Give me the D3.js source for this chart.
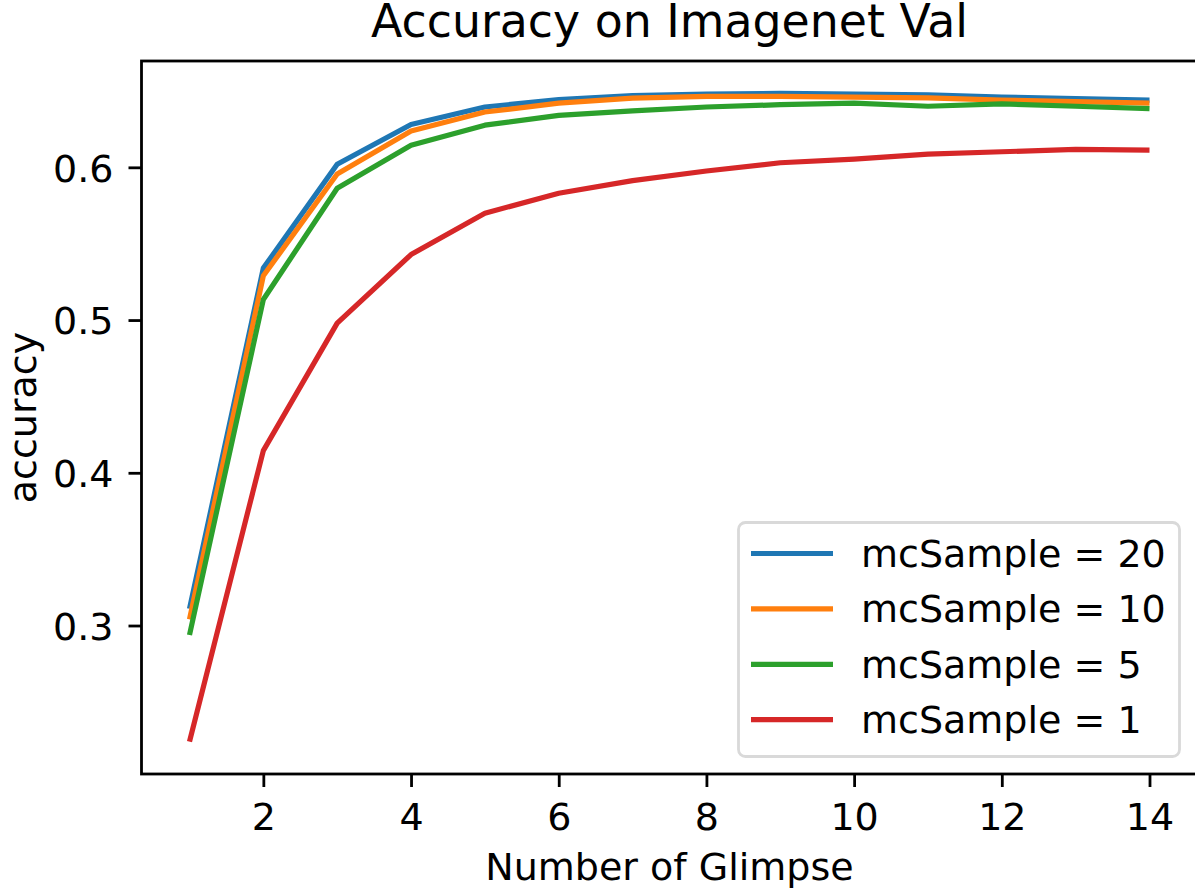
<!DOCTYPE html>
<html>
<head>
<meta charset="utf-8">
<script src="https://cdn.jsdelivr.net/npm/d3@7"></script>
<style>
  body { margin: 0; background: #fff; }
  svg { display: block; font-family: "DejaVu Sans", sans-serif; }
</style>
</head>
<body>
<svg width="1195" height="890"></svg>
<script>
"use strict";

// Data.

var glimpses = [1, 2, 3, 4, 5, 6, 7, 8, 9, 10, 11, 12, 13, 14];
var acc20 = [0.311, 0.534, 0.602, 0.628, 0.6395, 0.6443, 0.647, 0.648, 0.6484, 0.648, 0.6475, 0.646, 0.645, 0.644];
var acc10 = [0.304, 0.529, 0.5956, 0.6238, 0.6362, 0.642, 0.6453, 0.6464, 0.6464, 0.646, 0.6455, 0.644, 0.643, 0.642];
var acc5 = [0.2938, 0.5135, 0.5863, 0.6145, 0.6276, 0.634, 0.637, 0.6395, 0.641, 0.642, 0.640, 0.6415, 0.640, 0.6385];
var acc1 = [0.224, 0.4145, 0.498, 0.5429, 0.570, 0.583, 0.5913, 0.5976, 0.603, 0.6054, 0.6087, 0.6102, 0.6117, 0.6113];

var seriesLabels = ["mcSample = 20", "mcSample = 10", "mcSample = 5", "mcSample = 1"];
var seriesValues = [acc20, acc10, acc5, acc1];
var seriesColors = ["#1f77b4", "#ff7f0e", "#2ca02c", "#d62728"];

var xTicks = [2, 4, 6, 8, 10, 12, 14];
var yTicks = [0.3, 0.4, 0.5, 0.6];

// Layout.

var svg = d3.select("svg");
var Left = 141.5, Right = 1197.5, Top = 61, Bottom = 774;
var LineWidth = 5.2;
var SpineWidth = 2.8;
var TickLen = 13;
var FontTick = 38;
var FontTitle = 45.8;

// Scales with matplotlib style 5% margins.

var xExt = d3.extent(glimpses);
var xPad = (xExt[1] - xExt[0]) * 0.05;
var x = d3.scaleLinear().domain([xExt[0] - xPad, xExt[1] + xPad]).range([Left, Right]);

var allVals = d3.merge(seriesValues);
var yExt = d3.extent(allVals);
var yPad = (yExt[1] - yExt[0]) * 0.05;
var y = d3.scaleLinear().domain([yExt[0] - yPad, yExt[1] + yPad]).range([Bottom, Top]);

// Lines.

var line = d3.line()
    .x(function(d){ return x(d[0]); })
    .y(function(d){ return y(d[1]); });

var plot = svg.append("g");
seriesValues.forEach(function(vals, i){
    var pts = glimpses.map(function(g, j){ return [g, vals[j]]; });
    plot.append("path")
        .attr("d", line(pts))
        .attr("fill", "none")
        .attr("stroke", seriesColors[i])
        .attr("stroke-width", LineWidth)
        .attr("stroke-linejoin", "round");
});

// Axes.

var xAxis = svg.append("g")
    .attr("transform", "translate(0," + Bottom + ")")
    .call(d3.axisBottom(x).tickValues(xTicks).tickFormat(d3.format("d"))
        .tickSizeInner(TickLen).tickSizeOuter(0).tickPadding(15));

var yAxis = svg.append("g")
    .attr("transform", "translate(" + Left + ",0)")
    .call(d3.axisLeft(y).tickValues(yTicks).tickFormat(d3.format(".1f"))
        .tickSizeInner(TickLen).tickSizeOuter(0).tickPadding(15));

[xAxis, yAxis].forEach(function(a){
    a.select(".domain").remove();
    a.selectAll(".tick line").attr("stroke", "#000").attr("stroke-width", SpineWidth);
    a.selectAll(".tick text")
        .attr("fill", "#000")
        .style("font-family", "DejaVu Sans")
        .style("font-size", FontTick + "px");
});
yAxis.selectAll(".tick text").attr("dy", "0.36em");
xAxis.selectAll(".tick text").attr("dy", "0.74em");

// Spines.

svg.append("rect")
    .attr("x", Left).attr("y", Top)
    .attr("width", Right - Left).attr("height", Bottom - Top)
    .attr("fill", "none")
    .attr("stroke", "#000")
    .attr("stroke-width", SpineWidth);

// Title and axis labels.

svg.append("text")
    .attr("x", (Left + Right) / 2).attr("y", 36.5)
    .attr("text-anchor", "middle")
    .style("font-size", FontTitle + "px")
    .text("Accuracy on Imagenet Val");

svg.append("text")
    .attr("x", (Left + Right) / 2).attr("y", 880)
    .attr("text-anchor", "middle")
    .style("font-size", FontTick + "px")
    .text("Number of Glimpse");

svg.append("text")
    .attr("transform", "translate(36," + ((Top + Bottom) / 2) + ") rotate(-90)")
    .attr("text-anchor", "middle")
    .style("font-size", FontTick + "px")
    .text("accuracy");

// Legend.

var legend = svg.append("g");
legend.append("rect")
    .attr("x", 738.5).attr("y", 522.5)
    .attr("width", 441).attr("height", 234)
    .attr("rx", 7)
    .attr("fill", "#fff")
    .attr("fill-opacity", 0.8)
    .attr("stroke", "#d9d9d9")
    .attr("stroke-width", SpineWidth);

var RowY0 = 553.5, RowStep = 55.4;
seriesLabels.forEach(function(lab, i){
    var ry = RowY0 + i * RowStep;
    legend.append("line")
        .attr("x1", 751).attr("x2", 833)
        .attr("y1", ry).attr("y2", ry)
        .attr("stroke", seriesColors[i])
        .attr("stroke-width", LineWidth);
    legend.append("text")
        .attr("x", 861).attr("y", ry + 13.5)
        .style("font-size", FontTick + "px")
        .text(lab);
});
</script>
</body>
</html>
